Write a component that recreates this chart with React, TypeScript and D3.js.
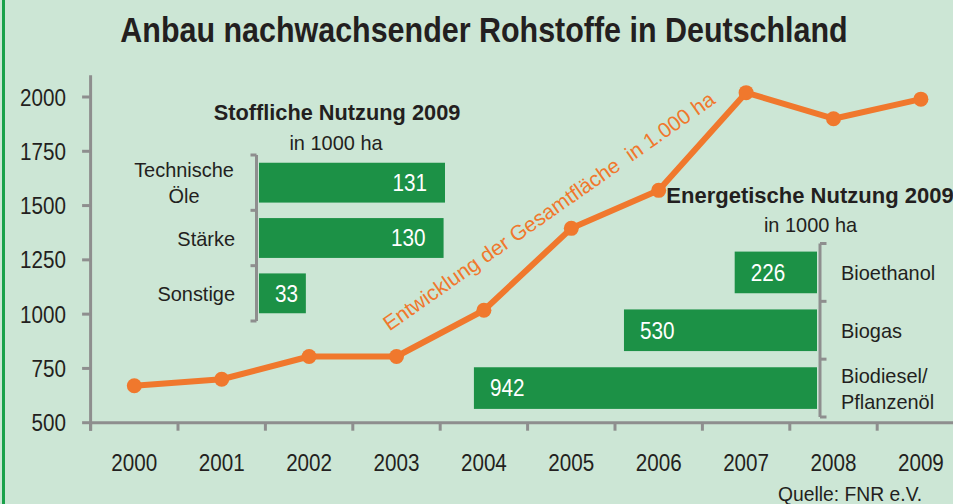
import React from "react";
import * as d3 from "d3";

const years = ["2000", "2001", "2002", "2003", "2004", "2005", "2006", "2007", "2008", "2009"];
const totalArea = [670, 700, 805, 805, 1018, 1395, 1570, 2020, 1900, 1990];
const yTicks = [500, 750, 1000, 1250, 1500, 1750, 2000];

const materialCats = ["Technische Öle", "Stärke", "Sonstige"];
const materialLines = [["Technische", "Öle"], ["Stärke"], ["Sonstige"]];
const materialValues = [131, 130, 33];

const energyCats = ["Bioethanol", "Biogas", "Biodiesel/Pflanzenöl"];
const energyLines = [["Bioethanol"], ["Biogas"], ["Biodiesel/", "Pflanzenöl"]];
const energyValues = [226, 530, 942];

const TITLE = "Anbau nachwachsender Rohstoffe in Deutschland";
const MAT_TITLE = "Stoffliche Nutzung 2009";
const EN_TITLE = "Energetische Nutzung 2009";
const UNIT = "in 1000 ha";
const LINE_LABEL = "Entwicklung der Gesamtfläche\u00a0 in 1.000 ha";
const SOURCE = "Quelle: FNR e.V.";

const W = 953;
const H = 504;
const BG = "#cce6d5";
const GREEN = "#1c9146";
const ORANGE = "#f0782d";
const GRAY = "#8e8e8e";
const TEXT = "#231f20";
const FONT = "'Liberation Sans', Arial, Helvetica, sans-serif";

type TP = {
  x: number;
  y: number;
  size: number;
  sx?: number;
  anchor?: string;
  weight?: number | string;
  fill?: string;
  rotate?: number;
  children: React.ReactNode;
};

function T({ x, y, size, sx = 1, anchor = "start", weight = 400, fill = TEXT, rotate = 0, children }: TP) {
  return (
    <text
      transform={`translate(${x},${y}) rotate(${rotate}) scale(${sx},1)`}
      fontSize={size}
      textAnchor={anchor as any}
      fontWeight={weight}
      fill={fill}
      fontFamily={FONT}
    >
      {children}
    </text>
  );
}

export default function App() {
  const x = d3.scaleBand<string>().domain(years).range([90.6, 964.6]).padding(0);
  const bw = x.bandwidth();
  const cx = (yr: string) => (x(yr) as number) + bw / 2;
  const y = d3.scaleLinear().domain([500, 2000]).range([422.7, 97]);
  const axisX = 90.6;
  const axisY = y(500);

  const line = d3
    .line<number>()
    .x((_, i) => cx(years[i]))
    .y((d) => y(d));

  // Stoffliche Nutzung
  const mRows = d3.scaleBand<string>().domain(materialCats).range([155, 321]).paddingInner(0.28).paddingOuter(0.14);
  const mX = d3.scaleLinear().domain([0, 131]).range([259, 445]);
  const mBracketX = 256.5;

  // Energetische Nutzung
  const eRows = d3.scaleBand<string>().domain(energyCats).range([243.5, 417]).paddingInner(0.28).paddingOuter(0.14);
  const eX = d3.scaleLinear().domain([0, 950]).range([817, 471]);
  const eBracketX = 820;

  const mBounds = [155, ...materialCats.slice(1).map((c) => (mRows(c) as number) - (mRows.step() * 0.28) / 2), 321];
  const eBounds = [243.5, ...energyCats.slice(1).map((c) => (eRows(c) as number) - (eRows.step() * 0.28) / 2), 417];

  return (
    <svg width={W} height={H} style={{ position: "absolute", left: 0, top: 0, display: "block" }}>
      <rect x={0} y={0} width={W} height={H} fill={BG} />
      <line x1={3.5} x2={3.5} y1={0} y2={H} stroke="#1aa14a" strokeWidth={3} />

      {/* Title */}
      <T x={484} y={41.7} size={35} weight={700} anchor="middle" sx={0.87}>
        {TITLE}
      </T>

      {/* Y axis */}
      <line x1={axisX} x2={axisX} y1={y(2100)} y2={axisY + 8} stroke={GRAY} strokeWidth={3} />
      {yTicks.map((t) => (
        <g key={t}>
          <line x1={axisX - 8.5} x2={axisX} y1={y(t)} y2={y(t)} stroke={GRAY} strokeWidth={3} />
          <T x={66} y={y(t) + 8.6} size={24} sx={0.86} anchor="end">
            {t}
          </T>
        </g>
      ))}

      {/* X axis */}
      <line x1={axisX - 1.5} x2={W} y1={axisY} y2={axisY} stroke={GRAY} strokeWidth={3} />
      {years.map((yr) => (
        <g key={yr}>
          <line x1={x(yr) as number} x2={x(yr) as number} y1={axisY} y2={axisY + 8} stroke={GRAY} strokeWidth={3} />
          <T x={cx(yr)} y={471} size={24} sx={0.86} anchor="middle">
            {yr}
          </T>
        </g>
      ))}

      {/* Stoffliche Nutzung block */}
      <T x={337} y={120} size={22} weight={700} anchor="middle" sx={0.99}>
        {MAT_TITLE}
      </T>
      <T x={336} y={150} size={21} sx={0.95} anchor="middle">
        {UNIT}
      </T>
      <line x1={mBracketX} x2={mBracketX} y1={155} y2={321} stroke={GRAY} strokeWidth={3} />
      {mBounds.map((b, i) => (
        <line key={i} x1={mBracketX - 6} x2={mBracketX} y1={b} y2={b} stroke={GRAY} strokeWidth={3} />
      ))}
      {materialCats.map((c, i) => {
        const top = mRows(c) as number;
        const h = mRows.bandwidth();
        const mid = top + h / 2;
        const v = materialValues[i];
        const x0 = mX(0);
        const x1 = mX(v);
        const wide = x1 - x0 > 80;
        const lines = materialLines[i];
        return (
          <g key={c}>
            <rect x={x0} y={top} width={x1 - x0} height={h} fill={GREEN} />
            <T x={wide ? x1 - 18 : (x0 + x1) / 2 + 4} y={mid + 8.3} size={23} sx={0.9} anchor={wide ? "end" : "middle"} fill="#ffffff">
              {v}
            </T>
            {lines.length === 1 ? (
              <T x={235} y={mid + 7.5} size={21} sx={0.95} anchor="end">
                {lines[0]}
              </T>
            ) : (
              lines.map((l, j) => (
                <T key={l} x={184} y={mid + 7.5 + (j - 0.5) * 26} size={21} sx={0.95} anchor="middle">
                  {l}
                </T>
              ))
            )}
          </g>
        );
      })}

      {/* Energetische Nutzung block */}
      <T x={810} y={203} size={22} weight={700} anchor="middle">
        {EN_TITLE}
      </T>
      <T x={810.5} y={231.7} size={21} sx={0.95} anchor="middle">
        {UNIT}
      </T>
      <line x1={eBracketX} x2={eBracketX} y1={243.5} y2={417} stroke={GRAY} strokeWidth={3} />
      {eBounds.map((b, i) => (
        <line key={i} x1={eBracketX} x2={eBracketX + 6.5} y1={b} y2={b} stroke={GRAY} strokeWidth={3} />
      ))}
      {energyCats.map((c, i) => {
        const top = eRows(c) as number;
        const h = eRows.bandwidth();
        const mid = top + h / 2;
        const v = energyValues[i];
        const x0 = eX(v);
        const x1 = eX(0);
        const lines = energyLines[i];
        return (
          <g key={c}>
            <rect x={x0} y={top} width={x1 - x0} height={h} fill={GREEN} />
            <T x={x0 + 16} y={mid + 8.3} size={23} sx={0.9} fill="#ffffff">
              {v}
            </T>
            {lines.map((l, j) => (
              <T key={l} x={841} y={mid + 7.5 + (j - (lines.length - 1) / 2) * 26} size={21} sx={0.95}>
                {l}
              </T>
            ))}
          </g>
        );
      })}

      {/* Total area line */}
      <path d={line(totalArea) || ""} fill="none" stroke={ORANGE} strokeWidth={6} strokeLinejoin="round" />
      {totalArea.map((v, i) => (
        <circle key={years[i]} cx={cx(years[i])} cy={y(v)} r={7.5} fill={ORANGE} />
      ))}
      <T x={553} y={217} size={21} rotate={-35} anchor="middle" fill={ORANGE}>
        {LINE_LABEL}
      </T>

      <T x={778} y={501} size={21} sx={0.92}>
        {SOURCE}
      </T>
    </svg>
  );
}
